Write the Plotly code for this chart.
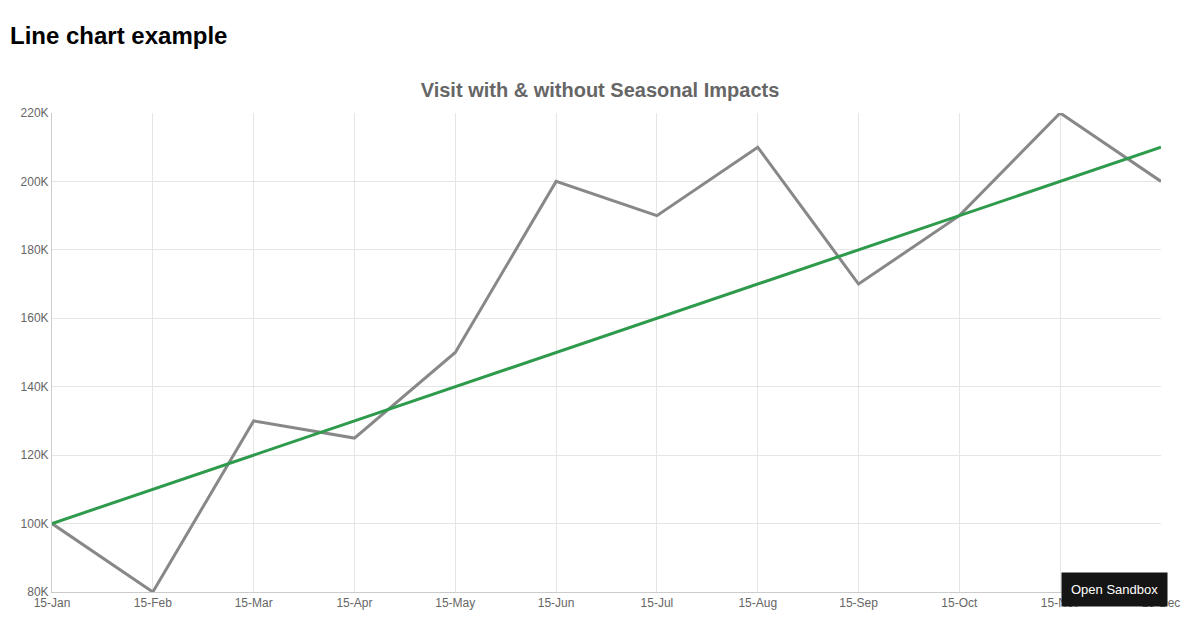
import plotly.graph_objects as go

months = ["15-Jan", "15-Feb", "15-Mar", "15-Apr", "15-May", "15-Jun",
          "15-Jul", "15-Aug", "15-Sep", "15-Oct", "15-Nov", "15-Dec"]
visits = [100000, 80000, 130000, 125000, 150000, 200000,
          190000, 210000, 170000, 190000, 220000, 200000]
trend = [100000, 110000, 120000, 130000, 140000, 150000,
         160000, 170000, 180000, 190000, 200000, 210000]
y_ticks = [80000, 100000, 120000, 140000, 160000, 180000, 200000, 220000]
y_labels = ["80K", "100K", "120K", "140K", "160K", "180K", "200K", "220K"]

fig = go.Figure()
fig.add_trace(go.Scatter(x=months, y=visits, mode="lines",
                         line=dict(color="#888888", width=3), name="Visits"))
fig.add_trace(go.Scatter(x=months, y=trend, mode="lines",
                         line=dict(color="#2e9a4b", width=3), name="Trend"))

# page body has an 8px margin, so the figure is a bit smaller than the window
fig.update_layout(
    width=1184, height=614,
    margin=dict(l=44, r=22, t=105, b=24),
    paper_bgcolor="white", plot_bgcolor="white",
    showlegend=False,
    font=dict(family="Liberation Sans, Arial", size=12, color="#666666"),
    title=dict(text="<b>Visit with &amp; without Seasonal Impacts</b>",
               x=0.5, xanchor="center", y=0.866, yanchor="middle",
               font=dict(size=20, color="#666666")),
)
fig.update_xaxes(showgrid=True, gridcolor="#e5e5e5", linecolor="#cccccc",
                 showline=True, ticks="", range=[0, 11])
fig.update_yaxes(showgrid=True, gridcolor="#e5e5e5", linecolor="#cccccc",
                 showline=True, range=[80000, 220000],
                 tickvals=y_ticks, ticktext=y_labels)

# page heading and sandbox button
fig.add_annotation(text="<b>Line chart example</b>", xref="paper", yref="paper",
                   x=-0.0394, y=1.161, xanchor="left", yanchor="middle",
                   showarrow=False, font=dict(size=24, color="black"))
fig.add_annotation(text="Open Sandbox", xref="paper", yref="paper",
                   x=1.0063, y=0.006, xanchor="right", yanchor="middle",
                   showarrow=False, bgcolor="#151515", borderpad=9,
                   font=dict(size=13, color="white"))

fig.write_html("out.html")
